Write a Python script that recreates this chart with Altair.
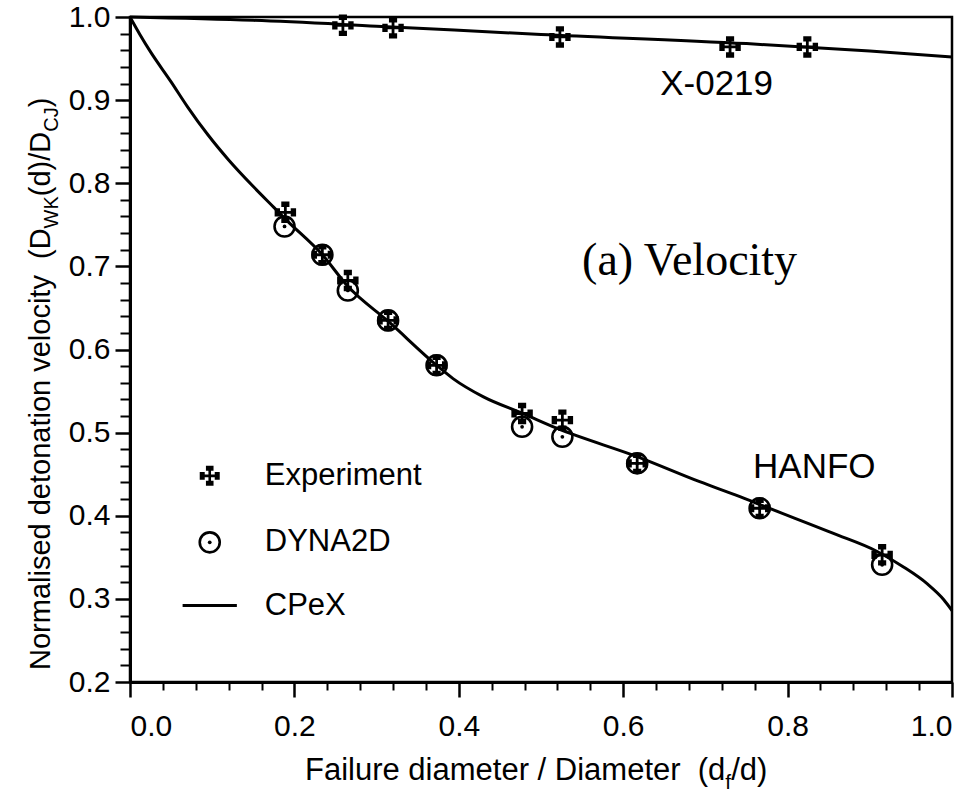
import altair as alt
import pandas as pd

# ---------------- data ----------------
hanfo_curve_x = [0.0, 0.012, 0.025, 0.05, 0.07, 0.095, 0.12, 0.15, 0.175, 0.19, 0.234, 0.265, 0.314,
                 0.373, 0.393, 0.43, 0.478, 0.52, 0.62, 0.693, 0.742, 0.775, 0.855, 0.909, 0.94,
                 0.97, 0.99, 1.0]
hanfo_curve_y = [1.0, 0.979, 0.958, 0.922, 0.892, 0.858, 0.828, 0.796, 0.771, 0.756, 0.714, 0.676,
                 0.634, 0.581, 0.565, 0.543, 0.523, 0.505, 0.47, 0.441, 0.423, 0.41, 0.379, 0.357,
                 0.339, 0.318, 0.299, 0.286]

x0219_curve_x = [0.0, 0.15, 0.3, 0.5, 0.75, 0.9, 1.0]
x0219_curve_y = [1.0, 0.996, 0.989, 0.979, 0.968, 0.959, 0.952]

hanfo_exp_x = [0.189, 0.234, 0.265, 0.314, 0.373, 0.477, 0.526, 0.617, 0.766, 0.915]
hanfo_exp_y = [0.765, 0.714, 0.683, 0.635, 0.581, 0.523, 0.515, 0.463, 0.409, 0.353]

hanfo_dyna_x = [0.188, 0.234, 0.265, 0.314, 0.373, 0.477, 0.526, 0.617, 0.766, 0.915]
hanfo_dyna_y = [0.748, 0.714, 0.671, 0.635, 0.581, 0.507, 0.495, 0.463, 0.409, 0.341]

x0219_exp_x = [0.259, 0.32, 0.523, 0.73, 0.824]
x0219_exp_y = [0.99, 0.987, 0.976, 0.964, 0.964]

x_major = [0.0, 0.2, 0.4, 0.6, 0.8, 1.0]
x_minor = [0.04, 0.08, 0.12, 0.16, 0.24, 0.28, 0.32, 0.36, 0.44, 0.48, 0.52, 0.56,
           0.64, 0.68, 0.72, 0.76, 0.84, 0.88, 0.92, 0.96]
y_major = [0.2, 0.3, 0.4, 0.5, 0.6, 0.7, 0.8, 0.9, 1.0]
y_minor = [0.22, 0.24, 0.26, 0.28, 0.32, 0.34, 0.36, 0.38, 0.42, 0.44, 0.46, 0.48,
           0.52, 0.54, 0.56, 0.58, 0.62, 0.64, 0.66, 0.68, 0.72, 0.74, 0.76, 0.78,
           0.82, 0.84, 0.86, 0.88, 0.92, 0.94, 0.96, 0.98]

legend_labels = ["Experiment", "DYNA2D", "CPeX"]
legend_y = [0.448, 0.368, 0.292]
legend_symbol_x = 0.097
legend_text_x = 0.164
legend_line_x = [0.064, 0.130]

annot_text = ["X-0219", "HANFO"]
annot_x = [0.645, 0.758]
annot_y = [0.906, 0.4455]

panel_text = "(a) Velocity"
panel_x, panel_y = 0.55, 0.6895

# ---------------- helpers ----------------
FONT = "Liberation Sans"
W = 822
H = 665
XS = alt.Scale(domain=[0, 1], nice=False, zero=False)
YS = alt.Scale(domain=[0.2, 1.0], nice=False, zero=False)
NB = "\u00a0"  # non-breaking space (SVG collapses double spaces)

# Arial / Liberation Sans advance widths (per 1000 em), used to chain sub-/normal text pieces
AW = {' ': 278, NB: 278, '(': 333, ')': 333, '/': 278, '.': 278, '-': 333,
      'A': 667, 'C': 722, 'D': 722, 'E': 667, 'F': 611, 'H': 722, 'J': 500, 'K': 667,
      'N': 722, 'O': 778, 'W': 944, 'X': 667, 'Y': 667, 'P': 667,
      'a': 556, 'c': 500, 'd': 556, 'e': 556, 'f': 278, 'i': 222, 'l': 222, 'm': 833,
      'n': 556, 'o': 556, 'p': 556, 'r': 333, 's': 500, 't': 278, 'u': 556, 'v': 500,
      'x': 500, 'y': 500}


def tw(s, size):
    return sum(AW.get(c, 556) for c in s) / 1000.0 * size


cross_path = ("M-0.13,-0.8H0.13V0.8H-0.13Z M-0.8,-0.13H0.8V0.13H-0.8Z "
              "M-0.38,-1H0.38V-0.5H-0.38Z M-0.38,0.5H0.38V1H-0.38Z "
              "M-1,-0.38H-0.5V0.38H-1Z M0.5,-0.38H1V0.38H0.5Z")

# ---------------- layers ----------------
hanfo_df = pd.DataFrame({"x": hanfo_curve_x, "y": hanfo_curve_y})
x0219_df = pd.DataFrame({"x": x0219_curve_x, "y": x0219_curve_y})

hanfo_line = alt.Chart(hanfo_df).mark_line(color="black", strokeWidth=3, interpolate="monotone").encode(
    x=alt.X("x:Q", scale=XS, axis=alt.Axis(values=x_major, format=".1f", title=None, orient="bottom",
                                           tickSize=15, labelPadding=14, labelFontSize=30,
                                           labelFont=FONT, domainWidth=3, tickWidth=2.5)),
    y=alt.Y("y:Q", scale=YS, axis=alt.Axis(values=y_major, format=".1f", title=None, orient="left",
                                           tickSize=15, labelPadding=5, labelFontSize=30,
                                           labelFont=FONT, domainWidth=3, tickWidth=2.5)),
)

x0219_line = alt.Chart(x0219_df).mark_line(color="black", strokeWidth=3, interpolate="monotone").encode(
    x=alt.X("x:Q", scale=XS, axis=alt.Axis(values=x_minor, labels=False, domain=False, title=None,
                                           orient="bottom", tickSize=8, tickWidth=2)),
    y=alt.Y("y:Q", scale=YS, axis=alt.Axis(values=y_minor, labels=False, domain=False, title=None,
                                           orient="left", tickSize=10, tickWidth=2)),
)

dyna_df = pd.DataFrame({"x": hanfo_dyna_x, "y": hanfo_dyna_y})
dyna_ring = alt.Chart(dyna_df).mark_point(shape="circle", filled=False, size=400, strokeWidth=2.6,
                                          color="black", opacity=1).encode(
    x=alt.X("x:Q", scale=XS, axis=None), y=alt.Y("y:Q", scale=YS, axis=None))
dyna_dot = alt.Chart(dyna_df).mark_point(shape="circle", filled=True, size=14, color="black",
                                         opacity=1).encode(
    x=alt.X("x:Q", scale=XS, axis=None), y=alt.Y("y:Q", scale=YS, axis=None))

exp_df = pd.DataFrame({"x": hanfo_exp_x + x0219_exp_x, "y": hanfo_exp_y + x0219_exp_y})
exp_pts = alt.Chart(exp_df).mark_point(shape=cross_path, filled=True, size=460, color="black",
                                       opacity=1, strokeWidth=0).encode(
    x=alt.X("x:Q", scale=XS, axis=None), y=alt.Y("y:Q", scale=YS, axis=None))

# legend (built from the legend arrays)
leg_df = pd.DataFrame({"label": legend_labels, "y": legend_y,
                       "sx": [legend_symbol_x] * 3, "tx": [legend_text_x] * 3})
leg_cross = alt.Chart(leg_df.iloc[[0]]).mark_point(shape=cross_path, filled=True, size=400,
                                                   color="black", opacity=1, strokeWidth=0).encode(
    x=alt.X("sx:Q", scale=XS, axis=None), y=alt.Y("y:Q", scale=YS, axis=None))
leg_ring = alt.Chart(leg_df.iloc[[1]]).mark_point(shape="circle", filled=False, size=400,
                                                  strokeWidth=2.6, color="black", opacity=1).encode(
    x=alt.X("sx:Q", scale=XS, axis=None), y=alt.Y("y:Q", scale=YS, axis=None))
leg_dot = alt.Chart(leg_df.iloc[[1]]).mark_point(shape="circle", filled=True, size=14,
                                                 color="black", opacity=1).encode(
    x=alt.X("sx:Q", scale=XS, axis=None), y=alt.Y("y:Q", scale=YS, axis=None))
leg_line_df = pd.DataFrame({"x": legend_line_x, "y": [legend_y[2]] * 2})
leg_line = alt.Chart(leg_line_df).mark_line(color="black", strokeWidth=3).encode(
    x=alt.X("x:Q", scale=XS, axis=None), y=alt.Y("y:Q", scale=YS, axis=None))
leg_text = alt.Chart(leg_df).mark_text(align="left", baseline="middle", font=FONT, fontSize=31,
                                       color="black").encode(
    x=alt.X("tx:Q", scale=XS, axis=None), y=alt.Y("y:Q", scale=YS, axis=None), text="label:N")

annot_df = pd.DataFrame({"t": annot_text, "x": annot_x, "y": annot_y})
annot = alt.Chart(annot_df).mark_text(align="left", baseline="alphabetic", font=FONT, fontSize=35,
                                      color="black").encode(
    x=alt.X("x:Q", scale=XS, axis=None), y=alt.Y("y:Q", scale=YS, axis=None), text="t:N")

panel_df = pd.DataFrame({"t": [panel_text], "x": [panel_x], "y": [panel_y]})
panel = alt.Chart(panel_df).mark_text(align="left", baseline="alphabetic", font="Liberation Serif",
                                      fontSize=46, color="black").encode(
    x=alt.X("x:Q", scale=XS, axis=None), y=alt.Y("y:Q", scale=YS, axis=None), text="t:N")

one = pd.DataFrame({"a": [0]})

# x axis title with subscript f
XT_SIZE, XT_SUB = 31, 21
xt_x0, xt_base = 175, 763
xt1 = "Failure diameter / Diameter " + NB + "(d"
xt3 = "/d)"
xt_pieces = [
    (xt1, xt_x0, xt_base, XT_SIZE),
    ("f", xt_x0 + tw(xt1, XT_SIZE), xt_base + 9, XT_SUB),
    (xt3, xt_x0 + tw(xt1, XT_SIZE) + tw("f", XT_SUB), xt_base, XT_SIZE),
]
x_title_layers = [
    alt.Chart(one).mark_text(text=t, align="left", baseline="alphabetic", font=FONT, fontSize=s,
                             color="black").encode(x=alt.value(px), y=alt.value(py))
    for (t, px, py, s) in xt_pieces
]

# y axis title (rotated) with subscripts WK and CJ
YT_SIZE, YT_SUB = 29, 20
yt_base_x, yt_y0 = -80, 653
segs = [("Normalised detonation velocity " + NB + "(D", YT_SIZE, 0), ("WK", YT_SUB, 8),
        ("(d)/D", YT_SIZE, 0), ("CJ", YT_SUB, 8), (")", YT_SIZE, 0)]
y_title_layers = []
cur = yt_y0
for t, s, off in segs:
    y_title_layers.append(
        alt.Chart(one).mark_text(text=t, align="left", baseline="alphabetic", angle=270, font=FONT,
                                 fontSize=s, color="black").encode(
            x=alt.value(yt_base_x + off), y=alt.value(cur)))
    cur -= tw(t, s)

chart = alt.layer(
    hanfo_line, x0219_line, dyna_ring, dyna_dot, exp_pts,
    leg_cross, leg_ring, leg_dot, leg_line, leg_text, annot, panel,
    *x_title_layers, *y_title_layers,
).resolve_axis(x="independent", y="independent").properties(
    width=W, height=H,
    autosize=alt.AutoSizeParams(type="none"),
    padding={"left": 130, "top": 17, "right": 23, "bottom": 114},
    background="white",
).configure_view(stroke="black", strokeWidth=2.5).configure_axis(
    grid=False, domainColor="black", tickColor="black", labelColor="black",
)

chart.save("out.html", embed_options={"renderer": "svg", "actions": False})
